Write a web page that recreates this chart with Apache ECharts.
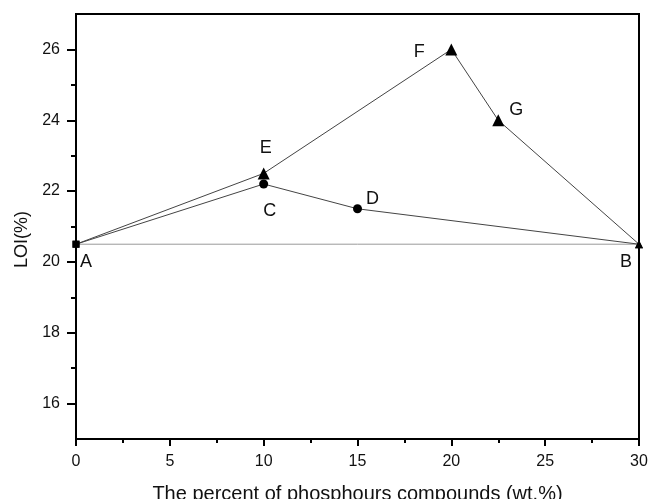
<!DOCTYPE html>
<html>
<head>
<meta charset="utf-8">
<script src="https://cdn.jsdelivr.net/npm/echarts@6/dist/echarts.min.js"></script>
<style>html,body{margin:0;padding:0;background:#fff}#c{width:650px;height:499px}</style>
</head>
<body>
<div id="c"></div>
<script>
// ---- data ----
const xTitle = 'The percent of phosphours compounds (wt.%)';
const yTitle = 'LOI(%)';
const xTicks = [0, 5, 10, 15, 20, 25, 30];
const yMajorTicks = [16, 18, 20, 22, 24, 26];
const yMinorTicks = [17, 19, 21, 23, 25];
const baseX = [0, 30];
const baseY = [20.5, 20.5];
const lowerNames = ['A', 'C', 'D', 'B'];
const lowerX = [0, 10, 15, 30];
const lowerY = [20.5, 22.2, 21.5, 20.5];
const upperNames = ['A', 'E', 'F', 'G', 'B'];
const upperX = [0, 10, 20, 22.5, 30];
const upperY = [20.5, 22.5, 26.0, 24.0, 20.5];

// ---- styling ----
const labelOffsets = { A: [10, 18], B: [-13, 18], C: [6, 27], D: [15, -10], E: [2, -25], F: [-32, 3], G: [18, -10] };
const font = 'Liberation Sans, Arial, sans-serif';

function pts(xs, ys, names, symbols, sizes, labelSet) {
  return xs.map((x, i) => {
    const item = { value: [x, ys[i]], symbol: symbols[i], symbolSize: sizes[i] };
    if (names && labelSet.includes(names[i])) {
      const n = names[i];
      item.label = { show: true, formatter: n, position: 'inside', offset: labelOffsets[n],
        color: '#111', fontSize: 18, fontFamily: font };
    }
    return item;
  });
}

const chart = echarts.init(document.getElementById('c'));
chart.setOption({
  animation: false,
  backgroundColor: '#fff',
  grid: { left: 76, right: 11, top: 14, bottom: 60, show: true, borderColor: '#000', borderWidth: 2,
    containLabel: false, outerBoundsMode: 'none' },
  xAxis: {
    type: 'value', min: 0, max: 30, interval: 5,
    name: xTitle, nameLocation: 'middle', nameGap: 45,
    nameTextStyle: { fontSize: 20, color: '#111', fontFamily: font },
    axisLine: { lineStyle: { color: '#000', width: 2 } },
    axisTick: { show: true, length: 7, lineStyle: { color: '#000', width: 2 } },
    minorTick: { show: true, splitNumber: 2, length: 4, lineStyle: { color: '#000', width: 2 } },
    axisLabel: { fontSize: 16, color: '#111', fontFamily: font, margin: 15,
      customValues: xTicks },
    splitLine: { show: false }
  },
  yAxis: [{
    type: 'value', min: 15, max: 27,
    axisLine: { show: true, lineStyle: { color: '#000', width: 2 } },
    axisTick: { show: true, length: 9, customValues: yMajorTicks, lineStyle: { color: '#000', width: 2 } },
    axisLabel: { fontSize: 16, color: '#111', fontFamily: font, margin: 16, customValues: yMajorTicks },
    splitLine: { show: false }
  }, {
    type: 'value', min: 15, max: 27, position: 'left', offset: 0,
    axisLine: { show: false },
    axisTick: { show: true, length: 5, customValues: yMinorTicks, lineStyle: { color: '#000', width: 2 } },
    axisLabel: { show: false },
    splitLine: { show: false }
  }],
  graphic: [{
    type: 'text', left: 13, top: 211,
    rotation: Math.PI / 2, originX: 0, originY: 0,
    style: { text: yTitle, fontSize: 18, fill: '#111', fontFamily: font }
  }],
  series: [{
    type: 'line', data: pts(baseX, baseY, null, ['none', 'none'], [0, 0], []),
    lineStyle: { color: '#9a9a9a', width: 1 }, itemStyle: { color: '#000' }, z: 1
  }, {
    type: 'line',
    data: pts(lowerX, lowerY, lowerNames, ['rect', 'circle', 'circle', 'triangle'], [7, 9, 9, 8], ['A', 'B', 'C', 'D']),
    lineStyle: { color: '#444', width: 1 }, itemStyle: { color: '#000' }, z: 3
  }, {
    type: 'line',
    data: pts(upperX, upperY, upperNames, ['rect', 'triangle', 'triangle', 'triangle', 'triangle'], [7, 12, 12, 12, 8], ['E', 'F', 'G']),
    lineStyle: { color: '#444', width: 1 }, itemStyle: { color: '#000' }, z: 3
  }]
});
</script>
</body>
</html>
